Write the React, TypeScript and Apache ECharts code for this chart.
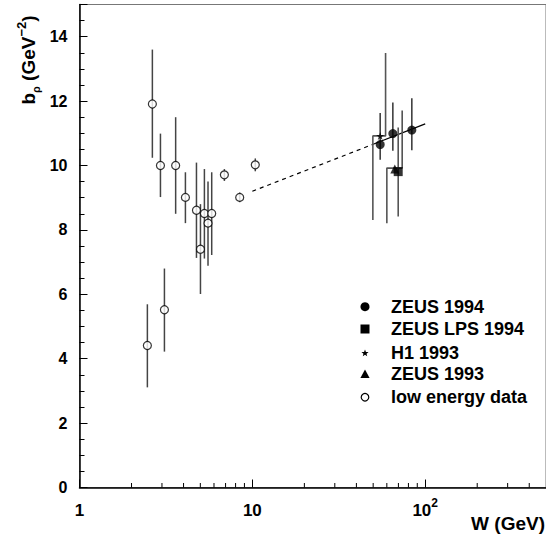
import React, { useEffect, useRef } from "react";
import * as echarts from "echarts";

// ---- data ----
const lowW = [2.47, 2.64, 2.94, 3.10, 3.60, 4.10, 4.75, 5.01, 5.28, 5.54, 5.82, 6.89, 8.45, 10.4];
const lowB = [4.41, 11.91, 10.0, 5.52, 10.0, 9.01, 8.61, 7.40, 8.51, 8.21, 8.51, 9.71, 9.01, 10.02];
const lowHi = [5.69, 13.6, 10.99, 6.80, 11.5, 9.79, 10.09, 8.80, 9.89, 9.50, 9.79, 9.89, 9.16, 10.22];
const lowLo = [3.11, 10.24, 9.02, 4.22, 8.5, 8.21, 7.13, 6.01, 7.11, 6.89, 7.22, 9.52, 8.86, 9.82];

const zeus94W = [54.9, 65.0, 83.7];
const zeus94B = [10.65, 10.99, 11.10];
const zeus94Hi = [11.63, 11.96, 12.09];
const zeus94Lo = [10.18, 10.46, 10.47];

const lpsW = [69.8];
const lpsB = [9.81];
const lpsHi = [11.18];
const lpsLo = [8.42];

const h1W = [54.9];
const h1B = [10.92];
const h1ErrW = [59.0, 59.0, 49.8, 49.8];
const h1ErrB = [13.49, 10.92, 10.92, 8.31];

const zeus93W = [66.7];
const zeus93B = [9.89];
const zeus93ErrW = [73.6, 73.6, 60.0, 60.0];
const zeus93ErrB = [11.71, 9.92, 9.92, 8.21];

const fitDashW = [10, 50];
const fitDashB = [9.2, 10.66];
const fitSolidW = [50, 100];
const fitSolidB = [10.66, 11.29];

const xMinorTicks = [2, 3, 4, 5, 6, 7, 8, 9, 20, 30, 40, 50, 60, 70, 80, 90, 200, 300, 400];

const legendNames = ["ZEUS 1994", "ZEUS LPS 1994", "H1 1993", "ZEUS 1993", "low energy data"];

const FONT = "Liberation Sans";

function zip2(a: number[], b: number[]) {
  return a.map((v, i) => [v, b[i]]);
}
function zip3(a: number[], b: number[], c: number[]) {
  return a.map((v, i) => [v, b[i], c[i]]);
}

function starPoints(cx: number, cy: number, R: number) {
  const pts: number[][] = [];
  for (let i = 0; i < 10; i++) {
    const r = i % 2 === 0 ? R : R * 0.42;
    const a = -Math.PI / 2 + (i * Math.PI) / 5;
    pts.push([cx + r * Math.cos(a), cy + r * Math.sin(a)]);
  }
  return pts;
}

const STAR = "path://M50 0 L61 35 L98 35 L68 57 L79 91 L50 70 L21 91 L32 57 L2 35 L39 35 Z";

function errBarSeries(data: number[][], color: string, width: number) {
  return {
    type: "custom",
    silent: true,
    z: 2,
    encode: { x: 0, y: [1, 2] },
    data,
    renderItem: (params: any, api: any) => {
      const x = api.value(0);
      const p1 = api.coord([x, api.value(1)]);
      const p2 = api.coord([x, api.value(2)]);
      return {
        type: "line",
        shape: { x1: p1[0], y1: p1[1], x2: p2[0], y2: p2[1] },
        style: { stroke: color, lineWidth: width },
      };
    },
  };
}

export default function App() {
  const ref = useRef<HTMLDivElement>(null);
  useEffect(() => {
    if (!ref.current) return;
    const chart = echarts.init(ref.current, undefined, { renderer: "svg" });

    const legendY = [306.7, 329, 352.7, 374.3, 397.3];
    const sx = 365;
    const tx = 391;
    const legendGraphics: any[] = [
      { type: "circle", shape: { cx: sx, cy: legendY[0], r: 4.5 }, style: { fill: "#000" } },
      { type: "rect", shape: { x: sx - 4.5, y: legendY[1] - 4.5, width: 9, height: 9 }, style: { fill: "#000" } },
      { type: "polygon", shape: { points: starPoints(sx, legendY[2] + 0.5, 3.8) }, style: { fill: "#000" } },
      {
        type: "polygon",
        shape: { points: [[sx, legendY[3] - 4.8], [sx - 4.6, legendY[3] + 3.6], [sx + 4.6, legendY[3] + 3.6]] },
        style: { fill: "#000" },
      },
      { type: "circle", shape: { cx: sx, cy: legendY[4], r: 3.8 }, style: { fill: "#fff", stroke: "#000", lineWidth: 1.2 } },
      ...legendNames.map((n, i) => ({
        type: "text",
        x: tx,
        y: legendY[i],
        style: {
          text: n,
          fill: "#000",
          font: `bold 18px "${FONT}"`,
          verticalAlign: "middle",
          align: "left",
        },
      })),
    ];

    const option: any = {
      animation: false,
      backgroundColor: "#fff",
      grid: {
        left: 79.5,
        top: 4.5,
        width: 467,
        height: 483,
        show: true,
        borderColor: "#777",
        borderWidth: 1,
        backgroundColor: "transparent",
      },
      xAxis: {
        type: "log",
        logBase: 10,
        min: 1,
        max: 500,
        axisLine: { show: true, lineStyle: { color: "#000", width: 1.5 } },
        axisTick: { show: true, inside: true, length: 8, lineStyle: { color: "#000", width: 1 } },
        splitLine: { show: false },
        axisLabel: {
          show: true,
          margin: 9,
          color: "#000",
          fontFamily: FONT,
          fontWeight: "bold",
          fontSize: 17,
          showMaxLabel: false,
          formatter: (v: number) => (Math.abs(v - 100) < 1e-6 ? "{a|10}{s|2}" : "{a|" + String(Math.round(v)) + "}"),
          rich: {
            a: { fontFamily: FONT, fontWeight: "bold", fontSize: 17, color: "#000", lineHeight: 22, verticalAlign: "bottom" },
            s: { fontFamily: FONT, fontWeight: "bold", fontSize: 12, color: "#000", lineHeight: 22, verticalAlign: "top", padding: [0, 0, 8, 0] },
          },
        },
      },
      yAxis: {
        type: "value",
        min: 0,
        max: 15,
        interval: 2,
        axisLine: { show: true, lineStyle: { color: "#000", width: 1.5 } },
        axisTick: { show: true, inside: true, length: 8, lineStyle: { color: "#000", width: 1 } },
        minorTick: { show: true, splitNumber: 4, length: 5, lineStyle: { color: "#000", width: 1 } },
        splitLine: { show: false },
        axisLabel: {
          margin: 12,
          color: "#000",
          fontFamily: FONT,
          fontWeight: "bold",
          fontSize: 16,
          showMaxLabel: false,
        },
      },
      graphic: [
        {
          type: "text",
          x: 28,
          y: 60,
          rotation: Math.PI / 2,
          style: {
            text: "{m|b}{sub|ρ}{m| (GeV}{sup|−2}{m|)}",
            align: "center",
            verticalAlign: "middle",
            rich: {
              m: { fontFamily: FONT, fontWeight: "bold", fontSize: 19, fill: "#000", lineHeight: 26, verticalAlign: "middle" },
              sub: { fontFamily: FONT, fontWeight: "bold", fontSize: 11, fill: "#000", lineHeight: 26, verticalAlign: "bottom" },
              sup: { fontFamily: FONT, fontWeight: "bold", fontSize: 13, fill: "#000", lineHeight: 26, verticalAlign: "top" },
            },
          },
        },
        {
          type: "text",
          x: 545,
          y: 523,
          style: {
            text: "W (GeV)",
            fill: "#000",
            font: `bold 19px "${FONT}"`,
            align: "right",
            verticalAlign: "middle",
          },
        },
        ...legendGraphics,
      ],
      series: [
        {
          type: "custom",
          silent: true,
          z: 1,
          data: xMinorTicks.map((w) => [w, 0]),
          renderItem: (params: any, api: any) => {
            const p = api.coord([api.value(0), 0]);
            return {
              type: "line",
              shape: { x1: p[0], y1: p[1], x2: p[0], y2: p[1] - 4.5 },
              style: { stroke: "#000", lineWidth: 1 },
            };
          },
        },
        {
          type: "line",
          name: "fitDash",
          data: zip2(fitDashW, fitDashB),
          showSymbol: false,
          symbol: "none",
          lineStyle: { color: "#000", width: 1.2, type: [4, 4] },
          z: 1,
        },
        {
          type: "line",
          name: "fitSolid",
          data: zip2(fitSolidW, fitSolidB),
          showSymbol: false,
          symbol: "none",
          lineStyle: { color: "#000", width: 1.3 },
          z: 1,
        },
        {
          type: "line",
          name: "h1Err",
          data: zip2(h1ErrW, h1ErrB),
          showSymbol: false,
          symbol: "none",
          lineStyle: { color: "#555", width: 1.6 },
          z: 2,
        },
        {
          type: "line",
          name: "zeus93Err",
          data: zip2(zeus93ErrW, zeus93ErrB),
          showSymbol: false,
          symbol: "none",
          lineStyle: { color: "#555", width: 1.6 },
          z: 2,
        },
        errBarSeries(zip3(lowW, lowLo, lowHi), "#444", 1.5),
        errBarSeries(zip3(zeus94W, zeus94Lo, zeus94Hi), "#333", 1.5),
        errBarSeries(zip3(lpsW, lpsLo, lpsHi), "#555", 1.6),
        {
          type: "scatter",
          name: "low energy data",
          data: zip2(lowW, lowB),
          symbol: "circle",
          symbolSize: 8,
          itemStyle: { color: "#fff", borderColor: "#000", borderWidth: 1.2 },
          z: 5,
        },
        {
          type: "scatter",
          name: "ZEUS 1994",
          data: zip2(zeus94W, zeus94B),
          symbol: "circle",
          symbolSize: 9,
          itemStyle: { color: "#000" },
          z: 5,
        },
        {
          type: "scatter",
          name: "ZEUS LPS 1994",
          data: zip2(lpsW, lpsB),
          symbol: "rect",
          symbolSize: 9,
          itemStyle: { color: "#000" },
          z: 5,
        },
        {
          type: "scatter",
          name: "H1 1993",
          data: zip2(h1W, h1B),
          symbol: STAR,
          symbolSize: 8,
          itemStyle: { color: "#000" },
          z: 5,
        },
        {
          type: "scatter",
          name: "ZEUS 1993",
          data: zip2(zeus93W, zeus93B),
          symbol: "triangle",
          symbolSize: 9,
          itemStyle: { color: "#000" },
          z: 5,
        },
      ],
    };

    chart.setOption(option);
    return () => chart.dispose();
  }, []);

  return (
    <div
      ref={ref}
      style={{ position: "absolute", left: 0, top: 0, width: 546, height: 539, background: "#fff" }}
    />
  );
}
